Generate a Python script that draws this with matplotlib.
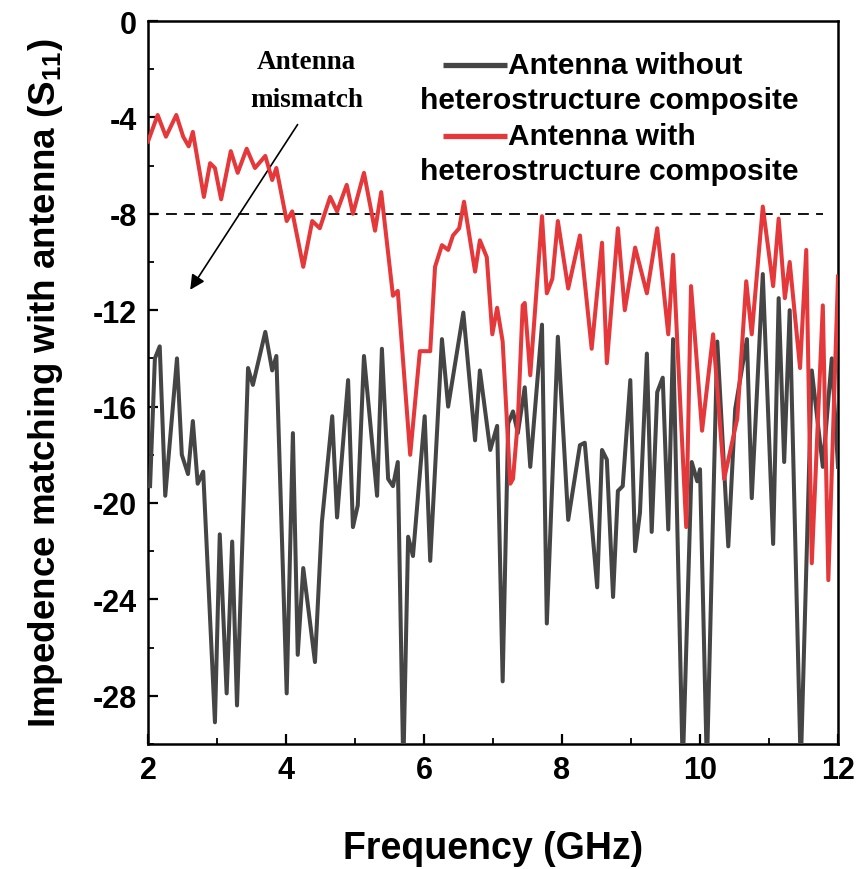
import matplotlib
matplotlib.use("Agg")
import matplotlib.pyplot as plt
from matplotlib.ticker import MultipleLocator

plt.rcParams['font.family'] = ['Liberation Sans', 'DejaVu Sans']
plt.rcParams['mathtext.fontset'] = 'custom'
plt.rcParams['mathtext.rm'] = 'Liberation Sans'
plt.rcParams['mathtext.bf'] = 'Liberation Sans:bold'
plt.rcParams['axes.unicode_minus'] = False

# ---- data ----
freq_without = [2.03, 2.10, 2.17, 2.25, 2.42, 2.49, 2.58, 2.65, 2.72, 2.80, 2.97, 3.04, 3.14, 3.22, 3.29,
                3.45, 3.52, 3.70, 3.80, 3.86, 4.01, 4.10, 4.17, 4.25, 4.42, 4.52, 4.67, 4.74, 4.90, 4.97,
                5.04, 5.13, 5.32, 5.39, 5.48, 5.55, 5.62, 5.70, 5.77, 5.84, 6.01, 6.09, 6.26, 6.35, 6.48,
                6.57, 6.74, 6.81, 6.96, 7.06, 7.14, 7.22, 7.29, 7.36, 7.46, 7.54, 7.71, 7.78, 7.94, 8.09,
                8.26, 8.33, 8.51, 8.58, 8.65, 8.74, 8.81, 8.88, 8.99, 9.06, 9.13, 9.23, 9.30, 9.38, 9.46,
                9.54, 9.61, 9.75, 9.88, 9.96, 10.00, 10.10, 10.25, 10.41, 10.51, 10.68, 10.75, 10.91, 11.06,
                11.14, 11.22, 11.30, 11.46, 11.62, 11.78, 11.91, 12.00]
s11_without = [-19.3, -14.0, -13.5, -19.7, -14.0, -18.0, -18.8, -16.6, -19.2, -18.7, -29.1, -21.3, -27.9, -21.6, -28.4,
               -14.4, -15.1, -12.9, -14.5, -13.9, -27.9, -17.1, -26.3, -22.7, -26.6, -20.8, -16.4, -20.6, -14.9, -21.0,
               -20.1, -13.9, -19.7, -13.6, -19.0, -19.3, -18.3, -31.0, -21.4, -22.2, -16.4, -22.4, -13.2, -16.0, -13.7,
               -12.1, -17.4, -14.5, -17.8, -16.8, -27.4, -16.7, -16.2, -17.1, -15.2, -18.5, -12.6, -25.0, -13.1, -20.7,
               -17.6, -17.5, -23.5, -17.8, -18.2, -23.9, -19.5, -19.3, -14.9, -22.0, -20.4, -13.8, -21.2, -15.4, -14.8,
               -21.1, -13.2, -31.0, -18.3, -19.1, -18.6, -31.0, -13.3, -21.8, -16.1, -13.2, -19.8, -10.5, -21.7,
               -11.5, -18.3, -12.0, -31.0, -14.5, -18.5, -14.0, -18.5]

freq_with = [2.00, 2.14, 2.26, 2.41, 2.51, 2.59, 2.65, 2.81, 2.90, 2.97, 3.06, 3.20, 3.30, 3.43, 3.55,
             3.70, 3.80, 3.86, 4.01, 4.09, 4.25, 4.38, 4.49, 4.64, 4.74, 4.88, 4.97, 5.13, 5.29, 5.38,
             5.55, 5.62, 5.80, 5.94, 6.09, 6.16, 6.26, 6.35, 6.42, 6.51, 6.58, 6.74, 6.81, 6.91, 6.99,
             7.06, 7.14, 7.25, 7.29, 7.36, 7.43, 7.46, 7.54, 7.71, 7.78, 7.86, 7.94, 8.09, 8.26, 8.43,
             8.58, 8.65, 8.81, 8.91, 9.06, 9.23, 9.38, 9.54, 9.61, 9.80, 9.87, 10.03, 10.19, 10.35, 10.54,
             10.67, 10.75, 10.91, 11.06, 11.14, 11.23, 11.30, 11.45, 11.54, 11.62, 11.78, 11.86, 12.00]
s11_with = [-5.0, -3.9, -4.8, -3.9, -4.8, -5.2, -4.6, -7.3, -5.9, -6.1, -7.4, -5.4, -6.3, -5.3, -6.1,
            -5.6, -6.6, -6.1, -8.3, -7.9, -10.2, -8.3, -8.6, -7.3, -7.9, -6.8, -8.0, -6.3, -8.7, -7.1,
            -11.4, -11.2, -18.0, -13.7, -13.7, -10.2, -9.3, -9.5, -8.9, -8.6, -7.5, -10.4, -9.1, -9.8, -13.0,
            -11.9, -13.3, -19.2, -19.0, -16.6, -11.8, -11.7, -14.7, -8.1, -11.3, -10.7, -8.3, -11.1, -8.9, -13.6,
            -9.2, -14.2, -8.6, -12.0, -9.4, -11.3, -8.6, -13.0, -9.7, -21.0, -11.0, -17.0, -13.0, -19.0, -16.5,
            -10.8, -13.0, -7.7, -11.0, -8.2, -11.5, -10.0, -14.4, -9.5, -22.5, -11.8, -23.2, -10.6]

threshold = -8
threshold_span = [2, 11.78]

x_ticks = [2, 4, 6, 8, 10, 12]
y_ticks = [0, -4, -8, -12, -16, -20, -24, -28]

label_without = ["Antenna without", "heterostructure composite"]
label_with = ["Antenna with", "heterostructure composite"]

color_without = '#454545'
color_with = '#e5383b'

fig = plt.figure(figsize=(8.6, 8.7), dpi=100)
ax = fig.add_axes([148/860, 1 - 745/870, (838-148)/860, (745-22)/870])

ax.plot(freq_without, s11_without, color=color_without, lw=2.9, zorder=3)
ax.plot(freq_with, s11_with, color=color_with, lw=2.9, zorder=4)
ax.plot(threshold_span, [threshold, threshold], color='black', lw=1.3, ls=(0, (6, 4)), zorder=2)

ax.set_xlim(2, 12)
ax.set_ylim(-30, 0)
ax.set_xticks(x_ticks)
ax.set_yticks(y_ticks)
ax.xaxis.set_minor_locator(MultipleLocator(1))
ax.yaxis.set_minor_locator(MultipleLocator(2))
ax.tick_params(which='major', direction='in', length=7, width=1.6, labelsize=22, pad=8)
ax.tick_params(which='minor', direction='in', length=4, width=1.3)
for lab in ax.get_xticklabels() + ax.get_yticklabels():
    lab.set_fontweight('bold')
for sp in ax.spines.values():
    sp.set_linewidth(1.8)

ax.set_xlabel('Frequency (GHz)', fontsize=27, fontweight='bold', labelpad=32)
ax.set_ylabel(r'Impedence matching with antenna (S$_{\mathbf{11}}$)', fontsize=26.5,
              fontweight='bold')
ax.yaxis.set_label_coords(-0.12, 0.5)

# annotation
ax.text(4.3, -1.66, 'Antenna', family='Liberation Serif', fontweight='bold', fontsize=19.5,
        ha='center', va='center')
ax.text(4.3, -3.24, 'mismatch', family='Liberation Serif', fontweight='bold', fontsize=19.5,
        ha='center', va='center')
ax.annotate('', xy=(2.59, -11.25), xytext=(4.19, -4.2),
            arrowprops=dict(arrowstyle='-|>', color='black', lw=1.2, mutation_scale=22))

# custom legend
def legend_entry(y_row1, color, lines):
    ax.plot([0.428, 0.52], [y_row1, y_row1], transform=ax.transAxes, color=color, lw=3.8,
            solid_capstyle='butt', clip_on=False)
    ax.text(0.522, y_row1, lines[0], transform=ax.transAxes, fontsize=21.5, fontweight='bold',
            va='center', ha='left')
    ax.text(0.394, y_row1 - 0.049, lines[1], transform=ax.transAxes, fontsize=21.5,
            fontweight='bold', va='center', ha='left')

legend_entry(1 - (66-22)/723, color_without, label_without)
legend_entry(1 - (137-22)/723, color_with, label_with)

fig.savefig('out.png', dpi=100)
